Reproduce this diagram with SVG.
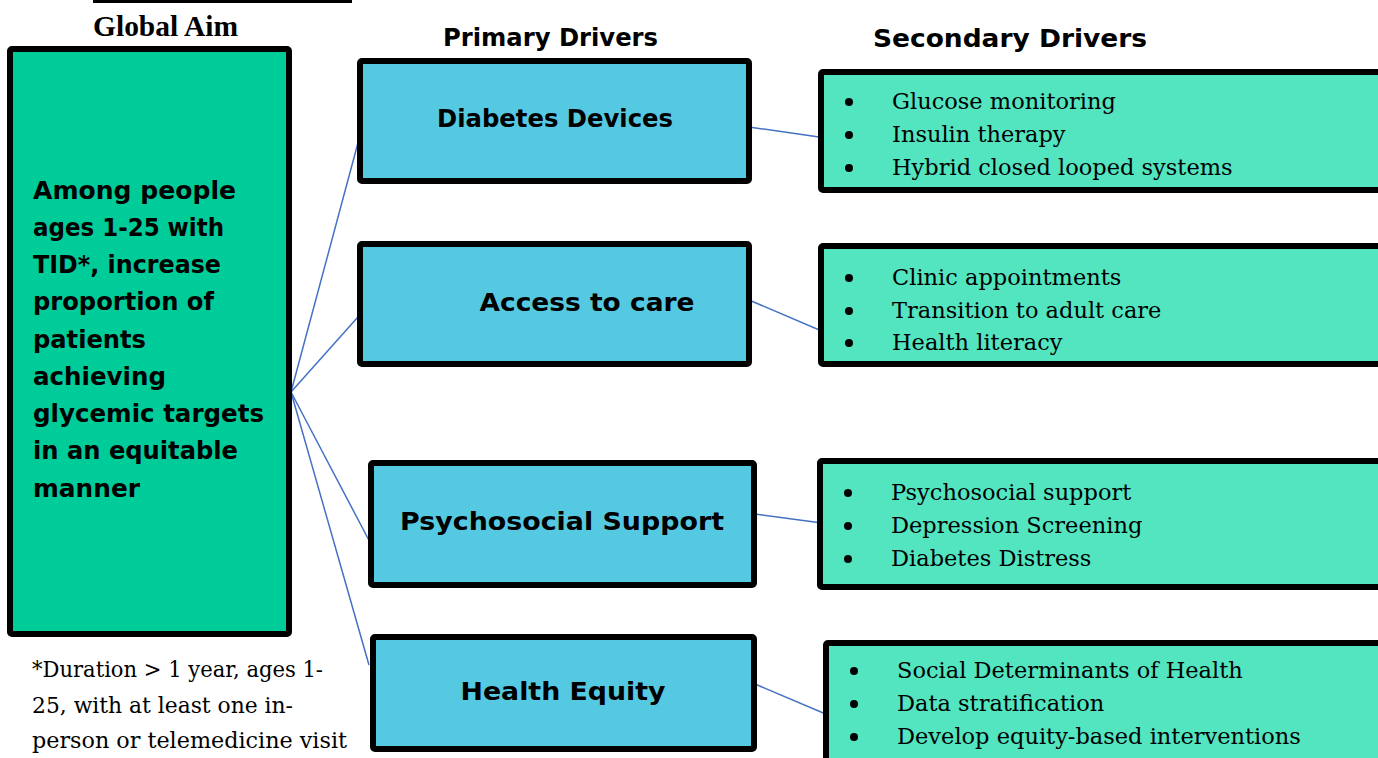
<svg xmlns="http://www.w3.org/2000/svg" width="1378" height="758" viewBox="0 0 1378 758">
  <defs>
    <style>
      .aim { fill: #00CC99; stroke: #000; stroke-width: 6; }
      .pri { fill: #56C9E2; stroke: #000; stroke-width: 6; }
      .sec { fill: #52E5C0; stroke: #000; stroke-width: 6; }
      .head { font-family: "DejaVu Sans", "Liberation Sans", sans-serif; font-weight: bold; font-size: 24px; fill: #000; }
      .lbl { font-family: "DejaVu Sans", "Liberation Sans", sans-serif; font-weight: bold; font-size: 24px; fill: #000; text-anchor: middle; }
      .aimtxt { font-family: "DejaVu Sans", "Liberation Sans", sans-serif; font-weight: bold; font-size: 24px; fill: #000; }
      .item { font-family: "DejaVu Serif", "Liberation Serif", serif; font-size: 22.5px; fill: #000; }
      .note { font-family: "DejaVu Serif", "Liberation Serif", serif; font-size: 22px; fill: #000; }
      .conn { stroke: #4472C4; stroke-width: 1.5; fill: none; }
    </style>
  </defs>
  <rect width="1378" height="758" fill="#fff"/>

  <!-- title rule and heading -->
  <rect x="93" y="0" width="259" height="3" fill="#000"/>
  <text x="93" y="36" font-family="Liberation Serif, serif" font-weight="bold" font-size="29" textLength="145" lengthAdjust="spacingAndGlyphs">Global Aim</text>
  <text class="head" x="443" y="46" textLength="215" lengthAdjust="spacingAndGlyphs">Primary Drivers</text>
  <text class="head" x="873" y="47" textLength="274" lengthAdjust="spacingAndGlyphs">Secondary Drivers</text>

  <!-- connectors -->
  <g id="connectors">
    <line class="conn" x1="291" y1="392" x2="359" y2="139"/>
    <line class="conn" x1="291" y1="392" x2="366" y2="308"/>
    <line class="conn" x1="291" y1="392" x2="373" y2="548"/>
    <line class="conn" x1="291" y1="392" x2="369" y2="665"/>
    <line class="conn" x1="749" y1="127" x2="819" y2="137"/>
    <line class="conn" x1="749" y1="300" x2="824" y2="332"/>
    <line class="conn" x1="755" y1="514" x2="822" y2="523"/>
    <line class="conn" x1="755" y1="684" x2="828" y2="715"/>
  </g>

  <!-- global aim -->
  <g id="aim">
    <rect class="aim" x="10" y="49" width="279" height="585" rx="2"/>
    <text class="aimtxt" x="33" y="199" textLength="203" lengthAdjust="spacingAndGlyphs">Among people</text>
    <text class="aimtxt" x="33" y="236" textLength="191" lengthAdjust="spacingAndGlyphs">ages 1-25 with</text>
    <text class="aimtxt" x="33" y="273" textLength="188" lengthAdjust="spacingAndGlyphs">TID*, increase</text>
    <text class="aimtxt" x="33" y="310" textLength="181" lengthAdjust="spacingAndGlyphs">proportion of</text>
    <text class="aimtxt" x="33" y="348" textLength="113" lengthAdjust="spacingAndGlyphs">patients</text>
    <text class="aimtxt" x="33" y="385" textLength="133" lengthAdjust="spacingAndGlyphs">achieving</text>
    <text class="aimtxt" x="33" y="422" textLength="231" lengthAdjust="spacingAndGlyphs">glycemic targets</text>
    <text class="aimtxt" x="33" y="459" textLength="205" lengthAdjust="spacingAndGlyphs">in an equitable</text>
    <text class="aimtxt" x="33" y="497" textLength="107" lengthAdjust="spacingAndGlyphs">manner</text>
  </g>

  <!-- footnote -->
  <g id="footnote">
    <text class="note" x="32" y="677" textLength="291" lengthAdjust="spacingAndGlyphs">*Duration &gt; 1 year, ages 1-</text>
    <text class="note" x="32" y="713" textLength="261" lengthAdjust="spacingAndGlyphs">25, with at least one in-</text>
    <text class="note" x="32" y="748" textLength="315" lengthAdjust="spacingAndGlyphs">person or telemedicine visit</text>
  </g>

  <!-- primary drivers -->
  <g id="devices">
    <rect class="pri" x="360" y="61" width="389" height="120" rx="2"/>
    <text class="lbl" x="555" y="127" textLength="236" lengthAdjust="spacingAndGlyphs">Diabetes Devices</text>
  </g>
  <g id="access">
    <rect class="pri" x="360" y="244" width="389" height="120" rx="2"/>
    <text class="lbl" x="587" y="311" textLength="215" lengthAdjust="spacingAndGlyphs">Access to care</text>
  </g>
  <g id="psychosocial">
    <rect class="pri" x="371" y="463" width="383" height="122" rx="2"/>
    <text class="lbl" x="562" y="530" textLength="324" lengthAdjust="spacingAndGlyphs">Psychosocial Support</text>
  </g>
  <g id="equity">
    <rect class="pri" x="373" y="637" width="381" height="112" rx="2"/>
    <text class="lbl" x="563" y="700" textLength="205" lengthAdjust="spacingAndGlyphs">Health Equity</text>
  </g>

  <!-- secondary drivers -->
  <g id="sec-devices">
    <rect class="sec" x="821" y="72" width="570" height="118" rx="2"/>
    <circle cx="849" cy="102" r="4"/>
    <circle cx="849" cy="135" r="4"/>
    <circle cx="849" cy="168" r="4"/>
    <text class="item" x="892" y="109">Glucose monitoring</text>
    <text class="item" x="892" y="142">Insulin therapy</text>
    <text class="item" x="892" y="175">Hybrid closed looped systems</text>
  </g>
  <g id="sec-access">
    <rect class="sec" x="821" y="246" width="570" height="118" rx="2"/>
    <circle cx="849" cy="278" r="4"/>
    <circle cx="849" cy="311" r="4"/>
    <circle cx="849" cy="343" r="4"/>
    <text class="item" x="892" y="285">Clinic appointments</text>
    <text class="item" x="892" y="318">Transition to adult care</text>
    <text class="item" x="892" y="350">Health literacy</text>
  </g>
  <g id="sec-psychosocial">
    <rect class="sec" x="820" y="461" width="570" height="126" rx="2"/>
    <circle cx="848" cy="493" r="4"/>
    <circle cx="848" cy="526" r="4"/>
    <circle cx="848" cy="559" r="4"/>
    <text class="item" x="891" y="500">Psychosocial support</text>
    <text class="item" x="891" y="533">Depression Screening</text>
    <text class="item" x="891" y="566">Diabetes Distress</text>
  </g>
  <g id="sec-equity">
    <rect class="sec" x="826" y="643" width="570" height="130" rx="2"/>
    <circle cx="854" cy="671" r="4"/>
    <circle cx="854" cy="704" r="4"/>
    <circle cx="854" cy="737" r="4"/>
    <text class="item" x="897" y="678">Social Determinants of Health</text>
    <text class="item" x="897" y="711">Data stratification</text>
    <text class="item" x="897" y="744">Develop equity-based interventions</text>
  </g>
</svg>
